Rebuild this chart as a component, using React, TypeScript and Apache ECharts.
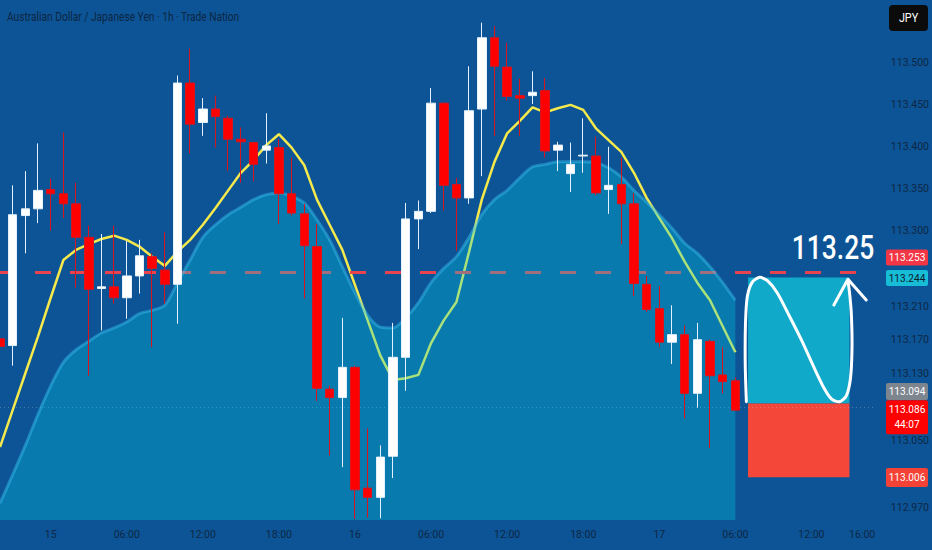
import React, { useEffect, useRef } from 'react';
import * as echarts from 'echarts';

// ---------- data ----------
const categories = [
  '14 20:00', '14 21:00', '14 22:00', '14 23:00',
  '15 00:00', '15 01:00', '15 02:00', '15 03:00', '15 04:00', '15 05:00', '15 06:00', '15 07:00',
  '15 08:00', '15 09:00', '15 10:00', '15 11:00', '15 12:00', '15 13:00', '15 14:00', '15 15:00',
  '15 16:00', '15 17:00', '15 18:00', '15 19:00', '15 20:00', '15 21:00', '15 22:00', '15 23:00',
  '16 00:00', '16 01:00', '16 02:00', '16 03:00', '16 04:00', '16 05:00', '16 06:00', '16 07:00',
  '16 08:00', '16 09:00', '16 10:00', '16 11:00', '16 12:00', '16 13:00', '16 14:00', '16 15:00',
  '16 16:00', '16 17:00', '16 18:00', '16 19:00', '16 20:00', '16 21:00', '16 22:00', '16 23:00',
  '17 00:00', '17 01:00', '17 02:00', '17 03:00', '17 04:00', '17 05:00', '17 06:00', '17 07:00',
  '17 08:00', '17 09:00', '17 10:00', '17 11:00', '17 12:00', '17 13:00', '17 14:00', '17 15:00',
  '17 16:00', '17 17:00',
];

// [open, close, low, high]
const candles = [
  [113.171, 113.162, 113.155, 113.175],
  [113.163, 113.319, 113.139, 113.354],
  [113.318, 113.326, 113.273, 113.371],
  [113.326, 113.348, 113.309, 113.404],
  [113.349, 113.344, 113.300, 113.362],
  [113.344, 113.332, 113.315, 113.417],
  [113.332, 113.292, 113.232, 113.357],
  [113.292, 113.230, 113.127, 113.306],
  [113.231, 113.233, 113.181, 113.296],
  [113.233, 113.220, 113.213, 113.306],
  [113.220, 113.246, 113.195, 113.288],
  [113.246, 113.270, 113.225, 113.289],
  [113.269, 113.255, 113.161, 113.273],
  [113.253, 113.236, 113.213, 113.298],
  [113.236, 113.476, 113.189, 113.485],
  [113.476, 113.427, 113.392, 113.517],
  [113.429, 113.445, 113.413, 113.458],
  [113.445, 113.436, 113.399, 113.461],
  [113.434, 113.409, 113.371, 113.437],
  [113.409, 113.406, 113.357, 113.423],
  [113.405, 113.379, 113.359, 113.406],
  [113.396, 113.401, 113.380, 113.440],
  [113.399, 113.344, 113.308, 113.409],
  [113.344, 113.321, 113.318, 113.387],
  [113.320, 113.282, 113.219, 113.332],
  [113.281, 113.112, 113.097, 113.308],
  [113.111, 113.101, 113.032, 113.115],
  [113.101, 113.137, 113.018, 113.196],
  [113.137, 112.991, 112.956, 113.139],
  [112.993, 112.982, 112.958, 113.064],
  [112.982, 113.030, 112.957, 113.044],
  [113.031, 113.149, 113.005, 113.190],
  [113.149, 113.314, 113.109, 113.333],
  [113.314, 113.323, 113.278, 113.336],
  [113.323, 113.452, 113.321, 113.470],
  [113.452, 113.354, 113.324, 113.453],
  [113.355, 113.339, 113.276, 113.363],
  [113.339, 113.443, 113.332, 113.496],
  [113.445, 113.530, 113.365, 113.548],
  [113.530, 113.496, 113.413, 113.544],
  [113.495, 113.460, 113.455, 113.524],
  [113.461, 113.458, 113.413, 113.481],
  [113.461, 113.465, 113.451, 113.490],
  [113.467, 113.395, 113.387, 113.482],
  [113.396, 113.402, 113.371, 113.406],
  [113.368, 113.379, 113.346, 113.405],
  [113.389, 113.390, 113.369, 113.434],
  [113.389, 113.345, 113.342, 113.412],
  [113.349, 113.354, 113.320, 113.400],
  [113.355, 113.332, 113.284, 113.387],
  [113.332, 113.237, 113.222, 113.345],
  [113.236, 113.206, 113.203, 113.246],
  [113.207, 113.167, 113.161, 113.234],
  [113.167, 113.176, 113.141, 113.211],
  [113.176, 113.106, 113.076, 113.187],
  [113.106, 113.170, 113.089, 113.190],
  [113.168, 113.127, 113.041, 113.170],
  [113.128, 113.120, 113.106, 113.161],
  [113.121, 113.086, 113.086, 113.125],
];

const maLine = [
  113.042, 113.086, 113.130, 113.174, 113.220, 113.265, 113.277, 113.284, 113.290, 113.294,
  113.289, 113.281, 113.269, 113.258, 113.275, 113.289, 113.307, 113.327, 113.348, 113.369,
  113.384, 113.402, 113.415, 113.399, 113.378, 113.337, 113.307, 113.277, 113.235, 113.193,
  113.151, 113.122, 113.124, 113.128, 113.166, 113.193, 113.215, 113.275, 113.337, 113.382,
  113.416, 113.431, 113.447, 113.441, 113.446, 113.450, 113.444, 113.422, 113.408, 113.394,
  113.369, 113.339, 113.315, 113.291, 113.263, 113.238, 113.217, 113.186, 113.155,
];

const cloudArea = [
  112.975, 113.009, 113.044, 113.081, 113.115, 113.143, 113.158, 113.168, 113.178, 113.184,
  113.191, 113.201, 113.205, 113.211, 113.238, 113.265, 113.292, 113.307, 113.319, 113.328,
  113.337, 113.343, 113.345, 113.341, 113.333, 113.313, 113.289, 113.257, 113.226, 113.199,
  113.185, 113.184, 113.196, 113.214, 113.238, 113.255, 113.269, 113.292, 113.319, 113.337,
  113.348, 113.363, 113.376, 113.379, 113.382, 113.382, 113.382, 113.381, 113.375, 113.364,
  113.348, 113.334, 113.319, 113.303, 113.285, 113.273, 113.257, 113.238, 113.217,
];

const yTickLabels = [113.5, 113.45, 113.4, 113.35, 113.3, 113.21, 113.17, 113.13, 113.05, 112.97];
const xTickCats = ['15 00:00', '15 06:00', '15 12:00', '15 18:00', '16 00:00', '16 06:00', '16 12:00', '16 18:00', '17 00:00', '17 06:00', '17 12:00', '17 16:00'];
const xTickTexts = ['15', '06:00', '12:00', '18:00', '16', '06:00', '12:00', '18:00', '17', '06:00', '12:00', '16:00'];

const alertPrice = 113.253;
const lastPrice = 113.086;
const countdown = '44:07';
const entryPrice = 113.094;
const targetPrice = 113.244;
const stopPrice = 113.006;
const positionStart = '17 07:00';
const positionEnd = '17 15:00';

// freehand drawing, [category index, price]
const drawingPoints = [
  [58.87, 113.096], [58.78, 113.14], [58.8, 113.19], [58.95, 113.222], [59.35, 113.239],
  [59.93, 113.2444], [60.55, 113.240], [61.3, 113.226], [62.2, 113.2], [63.2, 113.17],
  [64.2, 113.137], [65.0, 113.112], [65.6, 113.099], [66.22, 113.096], [66.75, 113.103],
  [67.08, 113.124], [67.2, 113.16], [67.15, 113.2], [67.02, 113.224], [66.88, 113.241],
];
const arrowPoints = [[65.77, 113.2113], [66.88, 113.242], [68.32, 113.2173]];
const noteText = '113.25';
const noteAnchor = [65.7, 113.2805];

const priceTags = [
  { value: alertPrice, text: '113.253', bg: '#f23645', fg: '#ffffff', dy: -12.5, h: 16 },
  { value: targetPrice, text: '113.244', bg: '#17bcd6', fg: '#0d1b2a', dy: 0.5, h: 16 },
  { value: entryPrice, text: '113.094', bg: '#7d858f', fg: '#ffffff', dy: -12, h: 17 },
  { value: lastPrice, text: '113.086\n' + countdown, bg: '#ff0000', fg: '#ffffff', dy: 7, h: 34 },
  { value: stopPrice, text: '113.006', bg: '#f44336', fg: '#ffffff', dy: 0.3, h: 19 },
];

const FONT = '"Roboto", "Liberation Sans", sans-serif';
const AXIS_TEXT = '#0e2744';

export default function App() {
  const ref = useRef<HTMLDivElement>(null);

  useEffect(() => {
    document.body.style.margin = '0';
    const chart = echarts.init(ref.current!, null, { renderer: 'svg' });
    const option: any = {
      animation: false,
      backgroundColor: '#0c5496',
      grid: { left: 0, right: 55, top: 0, bottom: 30 },
      xAxis: {
        type: 'category',
        data: categories,
        boundaryGap: false,
        axisLine: { show: false },
        axisTick: { show: false },
        splitLine: { show: false },
        axisLabel: {
          interval: (_i: number, v: string) => xTickCats.indexOf(v) >= 0,
          formatter: (v: string) => {
            const k = xTickCats.indexOf(v);
            return k >= 0 ? xTickTexts[k] : '';
          },
          color: AXIS_TEXT,
          fontSize: 10.5,
          fontFamily: FONT,
          margin: 9,
        },
      },
      yAxis: {
        type: 'value',
        position: 'right',
        min: 112.955,
        max: 113.575,
        interval: 0.005,
        axisLine: { show: false },
        axisTick: { show: false },
        splitLine: { show: false },
        axisLabel: {
          formatter: (v: number) => (yTickLabels.some((t) => Math.abs(t - v) < 1e-6) ? v.toFixed(3) : ''),
          color: AXIS_TEXT,
          fontSize: 10.5,
          fontFamily: FONT,
          margin: 16,
        },
      },
      series: [
        {
          type: 'line',
          name: 'MA',
          data: maLine,
          z: 2,
          symbol: 'none',
          lineStyle: { color: '#f5e94c', width: 2.5 },
          markLine: {
            silent: true,
            symbol: ['none', 'none'],
            label: { show: false },
            data: [
              { yAxis: alertPrice, lineStyle: { color: '#e8434f', width: 3, type: [16, 19] } },
              { yAxis: lastPrice, lineStyle: { color: 'rgba(170,185,210,0.4)', width: 1, type: [1, 3] } },
            ],
          },
          markArea: {
            silent: true,
            data: [
              [
                { xAxis: positionStart, yAxis: targetPrice, itemStyle: { color: '#10a9c9', opacity: 1 } },
                { xAxis: positionEnd, yAxis: entryPrice },
              ],
              [
                { xAxis: positionStart, yAxis: entryPrice, itemStyle: { color: '#f4473a', opacity: 1 } },
                { xAxis: positionEnd, yAxis: stopPrice },
              ],
            ],
          },
        },
        {
          type: 'line',
          name: 'Cloud',
          data: cloudArea,
          z: 8,
          smooth: 0.3,
          symbol: 'none',
          lineStyle: { color: 'rgba(60,195,240,0.45)', width: 3 },
          areaStyle: { color: 'rgba(0,205,230,0.44)', origin: 'start' },
        },
        {
          type: 'candlestick',
          name: 'AUDJPY',
          data: candles,
          z: 10,
          barWidth: 9,
          itemStyle: {
            color: '#ffffff',
            color0: '#ff0000',
            borderColor: '#e4f0fb',
            borderColor0: '#d8141e',
            borderWidth: 1,
          },
        },
      ],
    };
    chart.setOption(option);

    const last = categories.length - 1;
    const toPx = (idx: number, price: number) => {
      const a = chart.convertToPixel({ gridIndex: 0 }, [categories[0], price]) as number[];
      const b = chart.convertToPixel({ gridIndex: 0 }, [categories[last], price]) as number[];
      return [a[0] + ((b[0] - a[0]) * idx) / last, a[1]];
    };

    const graphics: any[] = [
      {
        type: 'text',
        x: 7,
        y: 17,
        scaleX: 0.85,
        style: {
          text: 'Australian Dollar / Japanese Yen · 1h · Trade Nation',
          fill: '#0d2643',
          font: '12px ' + FONT,
          textVerticalAlign: 'middle',
        },
      },
      { type: 'rect', shape: { x: 889, y: 5, width: 39, height: 26, r: 4 }, style: { fill: '#0b0b0b' } },
      {
        type: 'text',
        x: 908.5,
        y: 18,
        scaleX: 0.9,
        style: { text: 'JPY', fill: '#ffffff', font: '12px ' + FONT, textAlign: 'center', textVerticalAlign: 'middle' },
      },
    ];

    priceTags.forEach((t) => {
      const cy = toPx(0, t.value)[1] + t.dy;
      graphics.push({
        type: 'rect',
        shape: { x: 886, y: cy - t.h / 2, width: 42, height: t.h, r: 2 },
        style: { fill: t.bg },
        z: 20,
      });
      graphics.push({
        type: 'text',
        x: 907,
        y: cy,
        z: 21,
        scaleX: 0.92,
        style: {
          text: t.text,
          fill: t.fg,
          font: '11px ' + FONT,
          textAlign: 'center',
          textVerticalAlign: 'middle',
          lineHeight: 15,
        },
      });
    });

    const np = toPx(noteAnchor[0], noteAnchor[1]);
    graphics.push({
      type: 'text',
      x: np[0],
      y: np[1],
      z: 20,
      scaleX: 0.8,
      style: { text: noteText, fill: '#ffffff', font: '500 33px ' + FONT, textAlign: 'center', textVerticalAlign: 'middle' },
    });
    graphics.push({
      type: 'polyline',
      z: 20,
      shape: { points: drawingPoints.map((p) => toPx(p[0], p[1])), smooth: 0.25 },
      style: { stroke: '#ffffff', lineWidth: 3, fill: null, lineCap: 'round', lineJoin: 'round' },
    });
    graphics.push({
      type: 'polyline',
      z: 20,
      shape: { points: arrowPoints.map((p) => toPx(p[0], p[1])) },
      style: { stroke: '#ffffff', lineWidth: 3, fill: null, lineCap: 'round', lineJoin: 'round' },
    });

    chart.setOption({ graphic: graphics });
    return () => chart.dispose();
  }, []);

  return (
    <div
      ref={ref}
      style={{ position: 'fixed', left: 0, top: 0, width: 932, height: 550, background: '#0c5496' }}
    />
  );
}
